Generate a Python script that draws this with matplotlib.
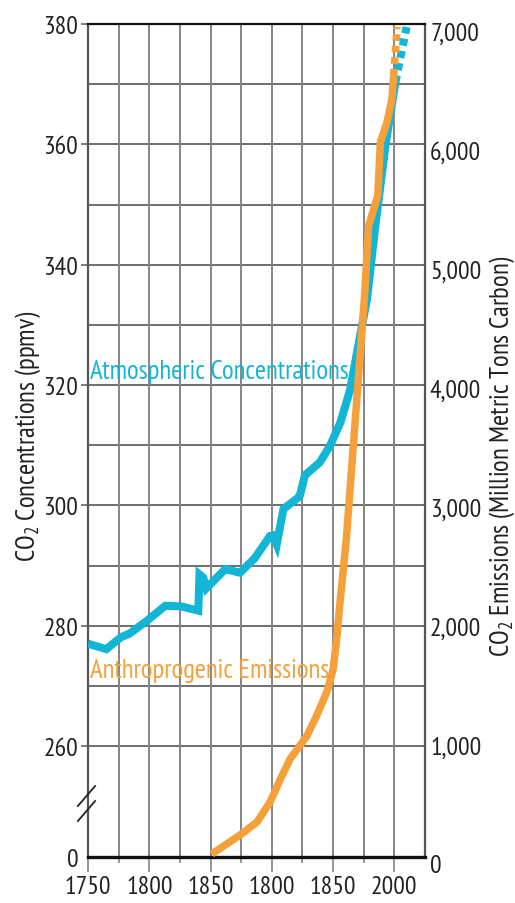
import numpy as np
import matplotlib.pyplot as plt
from matplotlib.ticker import FixedLocator
from matplotlib.transforms import blended_transform_factory, ScaledTranslation

plt.rcParams['font.family'] = ['PT Sans Narrow', 'DejaVu Sans']
plt.rcParams['mathtext.fontset'] = 'custom'
plt.rcParams['mathtext.rm'] = 'PT Sans Narrow'
plt.rcParams['mathtext.default'] = 'regular'

# 大气CO2浓度 (ppmv)
conc_years = [1750, 1765, 1777, 1784, 1798, 1813, 1826, 1840, 1841, 1844, 1846.5,
              1862, 1874, 1886, 1898.5, 1901, 1904, 1909.5, 1921, 1923, 1927, 1939,
              1947.5, 1956, 1961, 1964, 1969.5, 1977.7, 1984.5, 1992.7, 2000.8]
conc_ppm = [277.0, 276.1, 278.1, 278.7, 280.8, 283.3, 283.2, 282.5, 288.5, 288.0, 286.2,
            289.4, 288.8, 291.2, 294.9, 295.0, 293.5, 299.4, 301.2, 301.7, 305.0, 307.1,
            309.9, 313.8, 317.2, 319.3, 325.4, 334.3, 346.5, 359.7, 370.3]
conc_proj_years = [2000.8, 2010]
conc_proj_ppm = [370.3, 379.5]

# 人为排放 (百万公吨碳)
emis_years = [1851, 1875.5, 1888, 1898.5, 1907, 1915, 1928.5, 1936.5, 1945, 1950,
              1952.8, 1955.9, 1960.8, 1965.7, 1970.6, 1975.5, 1979, 1981.8, 1986.5,
              1988.6, 1994, 1998, 1999.4]
emis_vals = [25, 195, 295, 460, 655, 825, 1015, 1185, 1390, 1575,
             1820, 2168, 2672, 3345, 4017, 4689, 5305, 5400, 5560,
             6006, 6174, 6370, 6566]
emis_proj_years = [1999.4, 2002.3]
emis_proj_vals = [6566, 6975]

x_major = [1750, 1800, 1850, 1900, 1950, 2000]
x_labels = ['1750', '1800', '1850', '1800', '1850', '2000']
x_minor = [1775, 1825, 1875, 1925, 1975, 2025]
ppm_labels = [260, 280, 300, 320, 340, 360, 380]
ppm_grid = [270, 290, 310, 330, 350, 370]
emis_labels = [0, 1000, 2000, 3000, 4000, 5000, 6000, 7000]

BLUE = '#13B5D6'
ORANGE = '#F5A03A'
GRID_H = '#555555'
GRID_V = '#858585'
TXT = '#222222'
TICK_FS = 18.5
LABEL_FS = 19.3

# 断轴: 260 以下压缩, 底部显示为 0
PPM_TOP = 380
PPM_BOTTOM = 260 - 111 / (722 / 120)

fig = plt.figure(figsize=(5.15, 9.04), dpi=100)
ax = fig.add_axes([88 / 515, 46 / 904, 337 / 515, 833 / 904])
ax2 = ax.twinx()

ax.set_xlim(1750, 2025)
ax.set_ylim(PPM_BOTTOM, PPM_TOP)
ax2.set_ylim(0, 7000)

# 网格
for v in ppm_labels + ppm_grid:
    ax.axhline(v, color=GRID_H, lw=1.2, zorder=0)
for x in x_major + x_minor:
    ax.axvline(x, color=GRID_V, lw=1.4, zorder=0)

# 曲线
ax.plot(conc_years, conc_ppm, color=BLUE, lw=5.8, solid_joinstyle='miter',
        solid_capstyle='butt', zorder=3)
ax.plot(conc_proj_years, conc_proj_ppm, color=BLUE, lw=5.8,
        linestyle=(0, (0.9, 0.65)), dash_capstyle='butt', zorder=3)
ax2.plot(emis_years, emis_vals, color=ORANGE, lw=5.4, solid_joinstyle='round',
         solid_capstyle='butt', zorder=4)
ax2.plot(emis_proj_years, emis_proj_vals, color=ORANGE, lw=5.4,
         linestyle=(0, (0.9, 0.65)), dash_capstyle='butt', zorder=4)

# x 轴
ax.xaxis.set_major_locator(FixedLocator(x_major))
ax.set_xticklabels(x_labels)
ax.xaxis.set_minor_locator(FixedLocator(x_minor[:-1]))
ax.tick_params(axis='x', which='major', length=11, width=1.2, color=GRID_V,
               labelsize=TICK_FS, pad=2, labelcolor=TXT)
ax.tick_params(axis='x', which='minor', length=4, width=1.2, color=GRID_V)

# 左轴
ax.set_yticks([PPM_BOTTOM] + ppm_labels)
ax.set_yticklabels(['0'] + [str(v) for v in ppm_labels])
ax.tick_params(axis='y', which='major', length=5, width=1.2, color='#666666',
               labelsize=TICK_FS, pad=2, labelcolor=TXT)
ax.yaxis.get_major_ticks()[0].tick1line.set_visible(False)

# 右轴 (标签略向下偏移)
ax2.set_yticks([])
trans = blended_transform_factory(ax2.transAxes, ax2.transData) + \
    ScaledTranslation(0.05, -0.09, fig.dpi_scale_trans)
for v in emis_labels:
    ax2.text(1.0, v, f'{v:,}', transform=trans, ha='left', va='center',
             fontsize=TICK_FS, color=TXT, clip_on=False)

# 边框
for s in ax2.spines.values():
    s.set_visible(False)
ax.spines['top'].set_color('#111111')
ax.spines['top'].set_linewidth(1.6)
ax.spines['bottom'].set_color('#111111')
ax.spines['bottom'].set_linewidth(2.4)
ax.spines['left'].set_color('#555555')
ax.spines['left'].set_linewidth(1.6)
ax.spines['right'].set_color('#555555')
ax.spines['right'].set_linewidth(1.6)

# 断轴标记
for y0 in (0.0432, 0.0612):
    ax.plot([-0.030, 0.021], [y0, y0 + 0.024], transform=ax.transAxes,
            color='#222222', lw=1.3, clip_on=False, zorder=5)

# 系列标注
ax.text(0.007, 0.583, 'Atmospheric Concentrations', transform=ax.transAxes,
        color=BLUE, fontsize=LABEL_FS, ha='left', va='center', zorder=6)
ax.text(0.007, 0.2245, 'Anthroprogenic Emissions', transform=ax.transAxes,
        color=ORANGE, fontsize=LABEL_FS, ha='left', va='center', zorder=6)

# 轴标题
fig.text(28 / 515, 1 - 436 / 904, 'CO$_2$ Concentrations (ppmv)', rotation=90,
         ha='center', va='center', fontsize=LABEL_FS, color=TXT)
fig.text(502 / 515, 1 - 456 / 904, 'CO$_2$ Emissions (Million Metric Tons Carbon)',
         rotation=90, ha='center', va='center', fontsize=LABEL_FS, color=TXT)

fig.savefig('out.png', dpi=100)
